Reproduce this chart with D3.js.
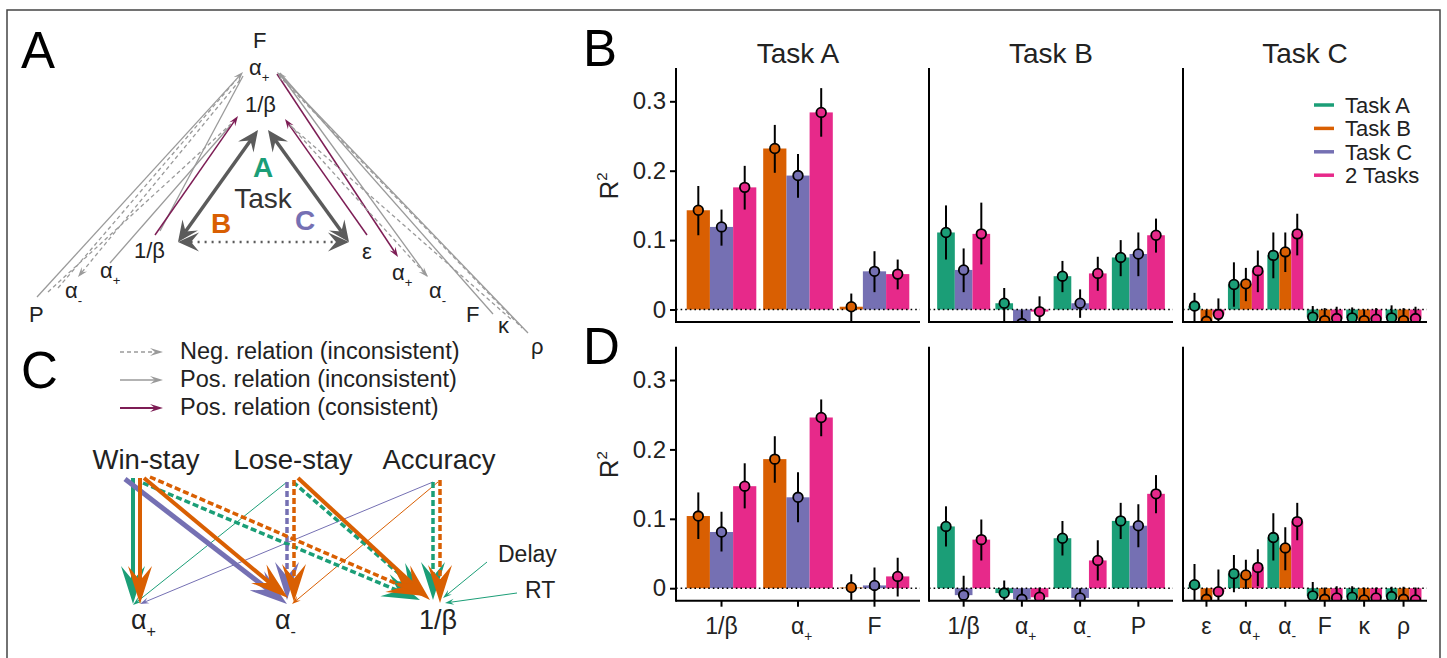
<!DOCTYPE html>
<html>
<head>
<meta charset="utf-8">
<script src="https://d3js.org/d3.v7.min.js"></script>
<style>
body { margin: 0; background: #fff; }
svg text { font-family: "Liberation Sans", Arial, sans-serif; fill: #222; }
</style>
</head>
<body>
<svg width="1447" height="658"></svg>
<script>
// ---- data ----
var seriesNames = ["Task A", "Task B", "Task C", "2 Tasks"];
var seriesColors = ["#1b9e77", "#d95f02", "#7570b3", "#e7298a"];

var paramsA = ["1/β", "α+", "F"];
var paramsB = ["1/β", "α+", "α-", "P"];
var paramsC = ["ε", "α+", "α-", "F", "κ", "ρ"];
var panelTitles = ["Task A", "Task B", "Task C"];
var seriesA = ["Task B", "Task C", "2 Tasks"];
var seriesB = ["Task A", "Task C", "2 Tasks"];
var seriesC = ["Task A", "Task B", "2 Tasks"];
var yTicks = [0, 0.1, 0.2, 0.3];
var yDomain = [-0.018, 0.348];

// panel B (top row): [series][param]
var rowB_taskA_mean = [[0.143, 0.232, 0.004], [0.119, 0.193, 0.055], [0.176, 0.284, 0.051]];
var rowB_taskA_lo   = [[0.107, 0.197, -0.030], [0.092, 0.161, 0.025], [0.144, 0.249, 0.029]];
var rowB_taskA_hi   = [[0.178, 0.266, 0.023], [0.144, 0.224, 0.084], [0.207, 0.319, 0.072]];

var rowB_taskB_mean = [[0.111, 0.009, 0.048, 0.075], [0.057, -0.020, 0.009, 0.080], [0.109, -0.003, 0.052, 0.107]];
var rowB_taskB_lo   = [[0.072, -0.030, 0.025, 0.048], [0.025, -0.050, -0.012, 0.048], [0.065, -0.030, 0.027, 0.082]];
var rowB_taskB_hi   = [[0.150, 0.031, 0.070, 0.100], [0.088, -0.001, 0.029, 0.111], [0.154, 0.019, 0.076, 0.131]];

var rowB_taskC_mean = [[0.005, 0.036, 0.078, -0.011, -0.012, -0.012], [-0.017, 0.037, 0.083, -0.016, -0.016, -0.016], [-0.007, 0.056, 0.109, -0.013, -0.014, -0.013]];
var rowB_taskC_lo   = [[-0.030, 0.004, 0.045, -0.040, -0.040, -0.040], [-0.050, 0.012, 0.054, -0.050, -0.050, -0.050], [-0.040, 0.025, 0.078, -0.040, -0.040, -0.040]];
var rowB_taskC_hi   = [[0.024, 0.068, 0.111, 0.005, 0.003, 0.006], [-0.001, 0.060, 0.111, 0.002, 0.000, 0.002], [0.016, 0.085, 0.138, 0.004, 0.002, 0.004]];

// panel D (bottom row)
var rowD_taskA_mean = [[0.104, 0.186, 0.001], [0.081, 0.131, 0.004], [0.147, 0.246, 0.017]];
var rowD_taskA_lo   = [[0.071, 0.152, -0.020], [0.053, 0.095, -0.020], [0.115, 0.219, -0.012]];
var rowD_taskA_hi   = [[0.138, 0.219, 0.020], [0.110, 0.167, 0.030], [0.180, 0.272, 0.044]];

var rowD_taskB_mean = [[0.089, -0.007, 0.072, 0.097], [-0.010, -0.016, -0.014, 0.090], [0.070, -0.013, 0.040, 0.136]];
var rowD_taskB_lo   = [[0.060, -0.030, 0.047, 0.071], [-0.040, -0.040, -0.040, 0.059], [0.040, -0.040, 0.011, 0.108]];
var rowD_taskB_hi   = [[0.118, 0.011, 0.097, 0.123], [0.018, 0.000, 0.000, 0.121], [0.099, 0.001, 0.069, 0.163]];

var rowD_taskC_mean = [[0.005, 0.021, 0.073, -0.011, -0.013, -0.012], [-0.016, 0.019, 0.058, -0.016, -0.017, -0.016], [-0.005, 0.030, 0.096, -0.014, -0.014, -0.017]];
var rowD_taskC_lo   = [[-0.030, -0.006, 0.040, -0.040, -0.040, -0.040], [-0.050, -0.001, 0.026, -0.050, -0.050, -0.050], [-0.040, 0.003, 0.069, -0.040, -0.040, -0.040]];
var rowD_taskC_hi   = [[0.035, 0.048, 0.108, 0.009, 0.003, 0.002], [-0.001, 0.041, 0.088, 0.001, 0.001, 0.002], [0.027, 0.056, 0.123, 0.003, 0.001, 0.001]];

// diagram A: label nodes (left x, baseline y) and links
var nodesA = [
  ["F", 253, 48], ["α+", 249, 75], ["1/β", 245, 112],
  ["1/β", 134, 258], ["α+", 100, 278], ["α-", 65, 298], ["P", 29, 322],
  ["ε", 362, 259], ["α+", 392, 280], ["α-", 429, 298], ["F", 466, 322], ["κ", 498, 333], ["ρ", 531, 354]
];
// x1,y1,x2,y2,type (neg/pos/con), head at end
var linksA = [
  [37, 297, 243, 72, "pos", 1], [240, 80, 78, 277, "neg", 1], [48, 292, 231, 124, "neg", 0],
  [58, 288, 236, 80, "neg", 0], [110, 263, 230, 126, "pos", 0], [160, 231, 243, 76, "pos", 0],
  [155, 235, 238, 116, "con", 1],
  [277, 74, 398, 257, "con", 1], [367, 235, 285, 119, "con", 1], [290, 125, 428, 277, "neg", 1],
  [280, 74, 427, 276, "pos", 0], [280, 73, 493, 314, "pos", 0], [528, 333, 277, 72, "pos", 1],
  [292, 127, 512, 320, "neg", 0], [283, 80, 522, 328, "neg", 0]
];

// diagram C: measures -> parameters
var measuresC = [["Win-stay", 146], ["Lose-stay", 293], ["Accuracy", 439]];
var paramsCdiag = [["α+", 139], ["α-", 283], ["1/β", 438]];
// x1,y1,x2,y2,colour index,dashed,width
var linksC = [
  [287, 482, 133, 605, 0, 0, 1], [433, 482, 140, 604, 2, 0, 1], [438, 482, 292, 604, 1, 0, 1],
  [487, 562, 443, 598, 0, 0, 1], [517, 593, 445, 603, 0, 0, 1],
  [133, 478, 133, 604, 0, 0, 4], [143, 483, 420, 600, 0, 1, 3.5], [293, 482, 426, 597, 0, 1, 3.5], [433, 482, 433, 600, 0, 1, 3.5],
  [125, 479, 287, 604, 2, 0, 5], [287, 482, 287, 600, 2, 1, 3.5],
  [140, 478, 140, 604, 1, 0, 4], [144, 478, 288, 598, 1, 0, 4], [150, 477, 425, 596, 1, 1, 3.5],
  [294, 480, 294, 602, 1, 1, 3.5], [298, 478, 430, 600, 1, 0, 4], [440, 480, 440, 603, 1, 1, 3.5]
];
var legendC = [["Neg. relation (inconsistent)", "neg"], ["Pos. relation (inconsistent)", "pos"], ["Pos. relation (consistent)", "con"]];

// ---- drawing ----
var svg = d3.select("svg");
var linkStyle = {
  neg: {color: "#9a9a9a", dash: "4,3", width: 1.3},
  pos: {color: "#9a9a9a", dash: null, width: 1.3},
  con: {color: "#7d1d55", dash: null, width: 1.5}
};

svg.append("rect").attr("x", 7).attr("y", 10).attr("width", 1433).attr("height", 700)
  .attr("fill", "none").attr("stroke", "#444").attr("stroke-width", 1.5);

function subLabel(t, label, size) {
  var m = label.match(/^(α)([+-])$/);
  if (m) {
    t.append("tspan").text(m[1]);
    t.append("tspan").attr("font-size", size * 0.6).attr("dy", size * 0.3).text(m[2]);
  } else {
    t.text(label);
  }
  return t;
}

function head(g, x, y, ang, len, wid, color) {
  g.append("path")
    .attr("d", "M0,0L" + (-len) + "," + (-wid / 2) + "L" + (-len * 0.62) + ",0L" + (-len) + "," + (wid / 2) + "Z")
    .attr("transform", "translate(" + x + "," + y + ") rotate(" + (ang * 180 / Math.PI) + ")")
    .attr("fill", color);
}

function arrow(g, x1, y1, x2, y2, o) {
  var dx = x2 - x1, dy = y2 - y1, L = Math.hypot(dx, dy), ux = dx / L, uy = dy / L;
  var s = o.start ? o.len * 0.6 : 0, e = o.end ? o.len * 0.6 : 0;
  g.append("line")
    .attr("x1", x1 + ux * s).attr("y1", y1 + uy * s)
    .attr("x2", x2 - ux * e).attr("y2", y2 - uy * e)
    .attr("stroke", o.color).attr("stroke-width", o.width)
    .attr("stroke-dasharray", o.dash);
  if (o.end) head(g, x2, y2, Math.atan2(dy, dx), o.len, o.wid, o.color);
  if (o.start) head(g, x1, y1, Math.atan2(-dy, -dx), o.len, o.wid, o.color);
}

// panel letters
[["A", 21, 68], ["C", 21, 388], ["B", 583, 66], ["D", 583, 364]].forEach(function(d) {
  svg.append("text").attr("x", d[1]).attr("y", d[2]).attr("font-size", 51)
    .style("fill", "#000").text(d[0]);
});

// ---- panel A diagram ----
var gA = svg.append("g");
linksA.forEach(function(l) {
  var st = linkStyle[l[4]];
  arrow(gA, l[0], l[1], l[2], l[3], {color: st.color, width: st.width, dash: st.dash, end: l[5], len: 10, wid: 7});
});
var bigArrow = {color: "#5b5b5b", width: 3.5, start: 1, end: 1, len: 21, wid: 19};
arrow(gA, 178, 242, 258, 130, bigArrow);
arrow(gA, 268, 130, 349, 242, bigArrow);
arrow(gA, 178, 242, 349, 242, Object.assign({}, bigArrow, {width: 2.5, dash: "2,5"}));

nodesA.forEach(function(n) {
  subLabel(gA.append("text").attr("x", n[1]).attr("y", n[2]).attr("font-size", 22), n[0], 22);
});
gA.append("text").attr("x", 263).attr("y", 177).attr("text-anchor", "middle").attr("font-size", 28)
  .attr("font-weight", "bold").style("fill", seriesColors[0]).text("A");
gA.append("text").attr("x", 263).attr("y", 208).attr("text-anchor", "middle").attr("font-size", 28)
  .style("fill", "#333").text("Task");
gA.append("text").attr("x", 221).attr("y", 233).attr("text-anchor", "middle").attr("font-size", 28)
  .attr("font-weight", "bold").style("fill", seriesColors[1]).text("B");
gA.append("text").attr("x", 305).attr("y", 230).attr("text-anchor", "middle").attr("font-size", 28)
  .attr("font-weight", "bold").style("fill", seriesColors[2]).text("C");

// ---- panel C diagram ----
var gC = svg.append("g");
legendC.forEach(function(d, i) {
  var st = linkStyle[d[1]], yy = 352 + i * 28;
  arrow(gC, 120, yy, 163, yy, {color: st.color, width: st.width + 0.3, dash: st.dash, end: 1, len: 13, wid: 8});
  gC.append("text").attr("x", 180).attr("y", yy + 7).attr("font-size", 23.5).text(d[0]);
});
linksC.forEach(function(l) {
  var thick = l[6] > 2;
  arrow(gC, l[0], l[1], l[2], l[3], {
    color: seriesColors[l[4]], width: l[6], dash: l[5] ? "6,3" : null, end: 1,
    len: thick ? 38 : 9, wid: thick ? 24 : 6
  });
});
measuresC.forEach(function(m) {
  gC.append("text").attr("x", m[1]).attr("y", 469).attr("text-anchor", "middle").attr("font-size", 27.5).text(m[0]);
});
paramsCdiag.forEach(function(p) {
  var t = gC.append("text").attr("x", p[1]).attr("y", 629).attr("font-size", 27);
  if (p[0].length === 2) t.attr("x", p[1] - 8); else t.attr("text-anchor", "middle");
  subLabel(t, p[0], 27);
});
gC.append("text").attr("x", 498).attr("y", 562).attr("font-size", 23).text("Delay");
gC.append("text").attr("x", 525).attr("y", 598).attr("font-size", 23).text("RT");

// ---- bar panels B and D ----
var panelX = [[676, 920], [929, 1173], [1183, 1427]];
var panelParams = [paramsA, paramsB, paramsC];
var panelSeries = [seriesA, seriesB, seriesC];
var rows = [
  {y0: 322, y1: 68, ticks: false, id: "clipB",
   mean: [rowB_taskA_mean, rowB_taskB_mean, rowB_taskC_mean],
   lo: [rowB_taskA_lo, rowB_taskB_lo, rowB_taskC_lo],
   hi: [rowB_taskA_hi, rowB_taskB_hi, rowB_taskC_hi]},
  {y0: 600.7, y1: 346.7, ticks: true, id: "clipD",
   mean: [rowD_taskA_mean, rowD_taskB_mean, rowD_taskC_mean],
   lo: [rowD_taskA_lo, rowD_taskB_lo, rowD_taskC_lo],
   hi: [rowD_taskA_hi, rowD_taskB_hi, rowD_taskC_hi]}
];
var defs = svg.append("defs");

rows.forEach(function(row, ri) {
  var y = d3.scaleLinear().domain(yDomain).range([row.y0, row.y1]);
  defs.append("clipPath").attr("id", row.id).append("rect")
    .attr("x", 600).attr("y", 0).attr("width", 847).attr("height", row.y0);

  panelX.forEach(function(px, pi) {
    var params = panelParams[pi], ser = panelSeries[pi];
    var x = d3.scaleBand().domain(params).range(px).paddingInner(0.09).paddingOuter(0.14);
    var xs = d3.scaleBand().domain(ser).range([0, x.bandwidth()]);
    var items = [];
    ser.forEach(function(s, si) {
      params.forEach(function(p, k) {
        items.push({p: p, s: s, v: row.mean[pi][si][k], lo: row.lo[pi][si][k], hi: row.hi[pi][si][k],
                    c: seriesColors[seriesNames.indexOf(s)]});
      });
    });
    var g = svg.append("g").attr("clip-path", "url(#" + row.id + ")");
    function cx(d) { return x(d.p) + xs(d.s) + xs.bandwidth() / 2; }

    g.selectAll("rect.bar").data(items).enter().append("rect").attr("class", "bar")
      .attr("x", function(d) { return x(d.p) + xs(d.s); })
      .attr("width", xs.bandwidth())
      .attr("y", function(d) { return y(Math.max(0, d.v)); })
      .attr("height", function(d) { return Math.abs(y(d.v) - y(0)); })
      .attr("fill", function(d) { return d.c; });

    g.append("line").attr("x1", px[0]).attr("x2", px[1]).attr("y1", y(0)).attr("y2", y(0))
      .attr("stroke", "#000").attr("stroke-width", 1.6).attr("stroke-dasharray", "1.6,3");

    g.selectAll("line.err").data(items).enter().append("line").attr("class", "err")
      .attr("x1", cx).attr("x2", cx)
      .attr("y1", function(d) { return y(d.lo); }).attr("y2", function(d) { return y(d.hi); })
      .attr("stroke", "#000").attr("stroke-width", 2);

    g.selectAll("circle").data(items).enter().append("circle")
      .attr("cx", cx).attr("cy", function(d) { return y(d.v); }).attr("r", 4.8)
      .attr("fill", function(d) { return d.c; }).attr("stroke", "#000").attr("stroke-width", 1.8);

    // axes lines
    svg.append("line").attr("x1", px[0]).attr("x2", px[0]).attr("y1", row.y1).attr("y2", row.y0 + 1)
      .attr("stroke", "#000").attr("stroke-width", 2);
    svg.append("line").attr("x1", px[0]).attr("x2", px[1]).attr("y1", row.y0).attr("y2", row.y0)
      .attr("stroke", "#000").attr("stroke-width", 2);

    if (pi === 0) {
      var ax = svg.append("g").attr("transform", "translate(" + px[0] + ",0)")
        .call(d3.axisLeft(y).tickValues(yTicks).tickSize(6).tickPadding(4)
          .tickFormat(function(d) { return d === 0 ? "0" : d3.format(".1f")(d); }));
      ax.select(".domain").remove();
      ax.selectAll(".tick line").attr("stroke", "#000").attr("stroke-width", 2);
      ax.selectAll(".tick text").attr("font-size", 24).attr("font-family", null).style("fill", "#222");
      var rl = svg.append("text").attr("transform", "translate(618," + ((row.y0 + row.y1) / 2 - 9) + ") rotate(-90)")
        .attr("text-anchor", "middle").attr("font-size", 26);
      rl.append("tspan").text("R");
      rl.append("tspan").attr("font-size", 15).attr("dy", -11).text("2");
    }
    if (ri === 0) {
      svg.append("text").attr("x", (px[0] + px[1]) / 2).attr("y", 63).attr("text-anchor", "middle")
        .attr("font-size", 28).text(panelTitles[pi]);
    }
    if (row.ticks) {
      var bx = svg.append("g").attr("transform", "translate(0," + row.y0 + ")")
        .call(d3.axisBottom(x).tickSize(6).tickFormat(""));
      bx.select(".domain").remove();
      bx.selectAll(".tick line").attr("stroke", "#000").attr("stroke-width", 2);
      params.forEach(function(p) {
        var t = svg.append("text").attr("y", 634).attr("font-size", 23);
        if (/^α/.test(p)) t.attr("x", x(p) + x.bandwidth() / 2 - 7); else t.attr("x", x(p) + x.bandwidth() / 2).attr("text-anchor", "middle");
        subLabel(t, p, 23);
      });
    }
  });
});

// legend
var lg = svg.append("g");
seriesNames.forEach(function(s, i) {
  var yy = 105 + i * 23.4;
  lg.append("line").attr("x1", 1314).attr("x2", 1334).attr("y1", yy).attr("y2", yy)
    .attr("stroke", seriesColors[i]).attr("stroke-width", 3.5);
  lg.append("text").attr("x", 1345).attr("y", yy + 8).attr("font-size", 22).text(s);
});
</script>
</body>
</html>
